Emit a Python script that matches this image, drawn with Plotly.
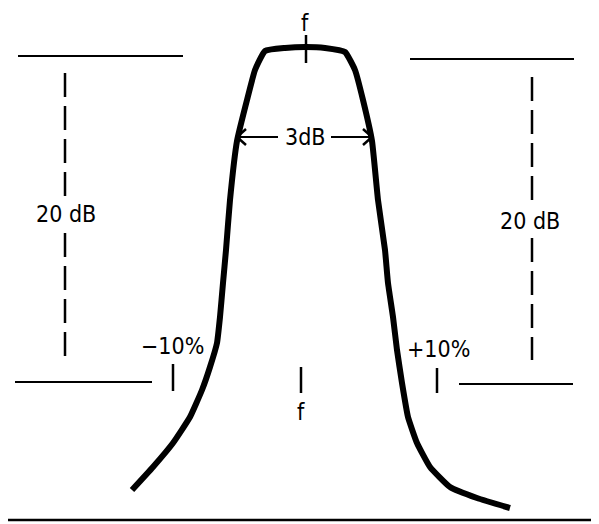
import plotly.graph_objects as go

# coordinates (pixel space, y grows downward)
curve_x = [132, 153, 173, 190, 202, 210, 217, 220, 223, 226, 230, 237, 247, 255, 265,
           285, 306, 325, 345, 355, 363, 372, 378, 385, 388, 393, 397, 402,
           408, 417, 430, 450, 477, 510]
curve_y = [490, 467, 443, 417, 390, 367, 343, 317, 283, 250, 200, 141, 100, 70, 51,
           48, 47, 48, 52, 70, 100, 141, 200, 250, 283, 317, 350, 383,
           417, 443, 467, 487, 498, 508]

# reference levels (solid horizontal lines)
levels = [
    ([18, 183], [56, 56]),
    ([410, 574], [59, 59]),
    ([15, 152], [382, 382]),
    ([459, 573], [384, 384]),
]
baseline_x = [8, 599]
baseline_y = [520, 520]

# 20 dB dashed spans: (x, top, text gap start, text gap end, bottom)
spans = [(65, 73, 198, 233, 357), (532, 77, 201, 238, 360)]
span_labels = [(66, 214, "20 dB"), (530, 221, "20 dB")]

# frequency ticks
ticks_x = [173, 301, 437]
ticks_top = [364, 367, 368]
ticks_bot = [391, 393, 393]
tick_labels = [(172, 346, "\u221210%"), (301, 412, "f"), (438, 349, "+10%")]
top_tick = (306, 35, 63)
top_label = (305, 8, "f")

# 3 dB width arrows
db3_y = 137
db3_left = (237, 278)
db3_right = (331, 372)
db3_label = (305, 137, "3dB")

FONT = dict(family="Liberation Sans Narrow, DejaVu Sans Condensed, Arial Narrow, sans-serif",
            size=23, color="black")

# the page body has an 8px margin, so the figure starts at (8, 8)
OFF = 8

fig = go.Figure()

fig.add_trace(go.Scatter(x=curve_x, y=curve_y, mode="lines",
                         line=dict(color="black", width=6, shape="spline", smoothing=0.4)))

for lx, ly in levels:
    fig.add_trace(go.Scatter(x=lx, y=ly, mode="lines", line=dict(color="black", width=2)))
fig.add_trace(go.Scatter(x=baseline_x, y=baseline_y, mode="lines", line=dict(color="black", width=2.5)))

for sx, top, g1, g2, bot in spans:
    for a, b in [(top, g1), (g2, bot)]:
        fig.add_trace(go.Scatter(x=[sx, sx], y=[a, b], mode="lines",
                                 line=dict(color="black", width=2.5, dash="24px,9px")))

for tx, t0, t1 in zip(ticks_x, ticks_top, ticks_bot):
    fig.add_trace(go.Scatter(x=[tx, tx], y=[t0, t1], mode="lines", line=dict(color="black", width=2.5)))
fig.add_trace(go.Scatter(x=[top_tick[0], top_tick[0]], y=[top_tick[1], top_tick[2]], mode="lines",
                         line=dict(color="black", width=2.5)))

# arrows with open chevron heads
for tail, tip in [(db3_left[1], db3_left[0]), (db3_right[0], db3_right[1])]:
    fig.add_trace(go.Scatter(x=[tail, tip], y=[db3_y, db3_y], mode="lines", line=dict(color="black", width=2)))
    back = tip + (9 if tip < tail else -9)
    fig.add_trace(go.Scatter(x=[back, tip, back], y=[db3_y - 8, db3_y, db3_y + 8], mode="lines",
                             line=dict(color="black", width=2.5)))

for x, y, t in span_labels + tick_labels + [db3_label]:
    fig.add_annotation(x=x, y=y, text=t, showarrow=False, font=FONT,
                       xanchor="center", yanchor="middle")
# top label hangs from the upper edge so it is not clipped
fig.add_annotation(x=top_label[0], y=top_label[1], text=top_label[2], showarrow=False,
                   font=FONT, xanchor="center", yanchor="top")

fig.update_layout(
    width=599 - OFF, height=524 - OFF, showlegend=False,
    margin=dict(l=0, r=0, t=0, b=0),
    paper_bgcolor="white", plot_bgcolor="white",
    xaxis=dict(range=[OFF, 599], visible=False, fixedrange=True),
    yaxis=dict(range=[524, OFF], visible=False, fixedrange=True),
)

fig.write_html("out.html")
